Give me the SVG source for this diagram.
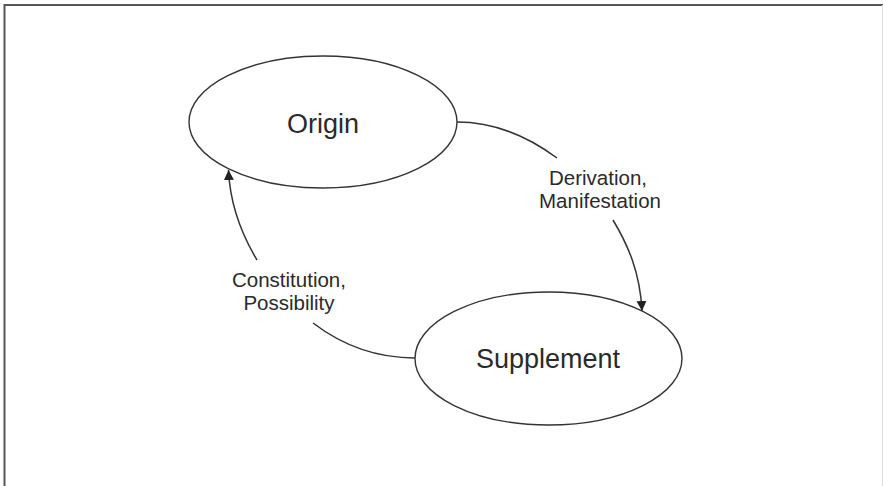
<svg xmlns="http://www.w3.org/2000/svg" width="883" height="486" viewBox="0 0 883 486">
<style>
.node{fill:#fff;stroke:#333;stroke-width:1.4}
.big{font-family:"Liberation Sans",Arial,sans-serif;font-size:27px;fill:#2a2a2a;text-anchor:middle}
.lbl{font-family:"Liberation Sans",Arial,sans-serif;font-size:20.5px;fill:#2a2a2a;text-anchor:middle}
.edge{fill:none;stroke:#333;stroke-width:1.5}
</style>
<defs>
<marker id="ah" viewBox="0 0 10 10" refX="10" refY="5" markerWidth="10" markerHeight="11" markerUnits="userSpaceOnUse" orient="auto">
<path d="M0,0 L10,5 L0,10 Z" fill="#222"/>
</marker>
</defs>
<rect width="883" height="486" fill="#fff"/>
<path d="M4.5,486 V5 H883" fill="none" stroke="#555" stroke-width="2"/>
<line x1="882.5" y1="5" x2="882.5" y2="486" stroke="#ddd" stroke-width="1"/>
<g id="connectors">
<path class="edge" d="M457,122 C495,122 530,138 557,158"/>
<path class="edge" d="M613,220 C628,245 640,272 642,311" marker-end="url(#ah)"/>
<path class="edge" d="M415,358 C370,358 338,342 313,323"/>
<path class="edge" d="M257,260 C242,235 230,205 228.5,170" marker-end="url(#ah)"/>
</g>
<g id="origin">
<ellipse class="node" cx="323" cy="122" rx="134" ry="66"/>
<text class="big" x="323" y="133">Origin</text>
</g>
<g id="supplement">
<ellipse class="node" cx="548.5" cy="358.5" rx="133.5" ry="66.5"/>
<text class="big" x="548" y="368">Supplement</text>
</g>
<g id="label-derivation">
<text class="lbl" x="598" y="185">Derivation,</text>
<text class="lbl" x="600" y="208">Manifestation</text>
</g>
<g id="label-constitution">
<text class="lbl" x="289" y="287">Constitution,</text>
<text class="lbl" x="289" y="310">Possibility</text>
</g>
</svg>
